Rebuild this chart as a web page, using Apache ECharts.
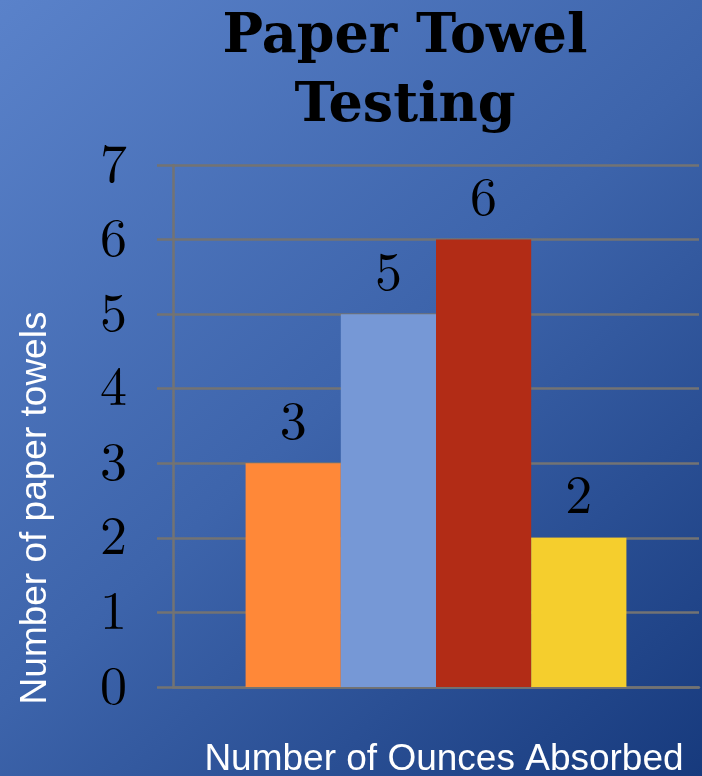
<!DOCTYPE html>
<html>
<head>
<meta charset="utf-8">
<script src="https://cdn.jsdelivr.net/npm/echarts@6/dist/echarts.min.js"></script>
<style>html,body{margin:0;padding:0;}#c{width:702px;height:776px;}</style>
</head>
<body>
<div id="c"></div>
<script>
const titleLines = ['Paper Towel', 'Testing'];
const categories = [''];
const seriesNames = ['A', 'B', 'C', 'D'];
const barValues = [3, 5, 6, 2];
const barColors = ['#FF8838', '#7698D6', '#B22C16', '#F5CE2D'];
const yMin = 0, yMax = 7, yStep = 1;
const xAxisName = 'Number of Ounces Absorbed';
const yAxisName = 'Number of paper towels';

const chart = echarts.init(document.getElementById('c'));
const grey = '#737373';
const serif = '"Latin Modern Roman", "Liberation Serif", "DejaVu Serif", serif';

const option = {
  animation: false,
  backgroundColor: {
    type: 'linear', x: 0, y: 0, x2: 1, y2: 1,
    colorStops: [
      { offset: 0, color: '#5a82ca' },
      { offset: 0.5, color: '#3d64ab' },
      { offset: 1, color: '#173a7d' }
    ]
  },
  grid: { left: 173, right: 3, top: 165, bottom: 89, containLabel: false },
  xAxis: {
    type: 'category',
    data: categories,
    axisLine: { show: true, lineStyle: { color: grey, width: 2.5 } },
    axisTick: { show: false },
    axisLabel: { show: false },
    splitLine: { show: false }
  },
  yAxis: {
    type: 'value',
    min: yMin, max: yMax, interval: yStep,
    axisLine: { show: true, lineStyle: { color: grey, width: 2.5 } },
    axisTick: { show: true, inside: false, length: 16, lineStyle: { color: grey, width: 2.5 } },
    axisLabel: { margin: 46, color: '#000', fontSize: 54, fontFamily: serif },
    splitLine: { show: true, lineStyle: { color: grey, width: 2.5 } }
  },
  series: seriesNames.map((name, i) => ({
    name: name,
    type: 'bar',
    data: [barValues[i]],
    barGap: '0%',
    barCategoryGap: '27.6%',
    itemStyle: { color: barColors[i] },
    label: {
      show: true, position: 'top', distance: 14,
      color: '#000', fontSize: 54, fontFamily: serif
    }
  })),
  graphic: [
    { type: 'text', x: 405, y: 38, style: { text: titleLines[0], textAlign: 'center', textVerticalAlign: 'middle', font: 'bold 54px "DejaVu Serif", serif', fill: '#000' } },
    { type: 'text', x: 405, y: 107, style: { text: titleLines[1], textAlign: 'center', textVerticalAlign: 'middle', font: 'bold 54px "DejaVu Serif", serif', fill: '#000' } },
    { type: 'text', x: 444, y: 760, style: { text: xAxisName, textAlign: 'center', textVerticalAlign: 'middle', font: '37px "Liberation Sans", Arial, sans-serif', fill: '#fff' } },
    { type: 'text', x: 36, y: 508, rotation: Math.PI / 2, style: { text: yAxisName, textAlign: 'center', textVerticalAlign: 'middle', font: '37px "Liberation Sans", Arial, sans-serif', fill: '#fff' } }
  ]
};
chart.setOption(option);
</script>
</body>
</html>
